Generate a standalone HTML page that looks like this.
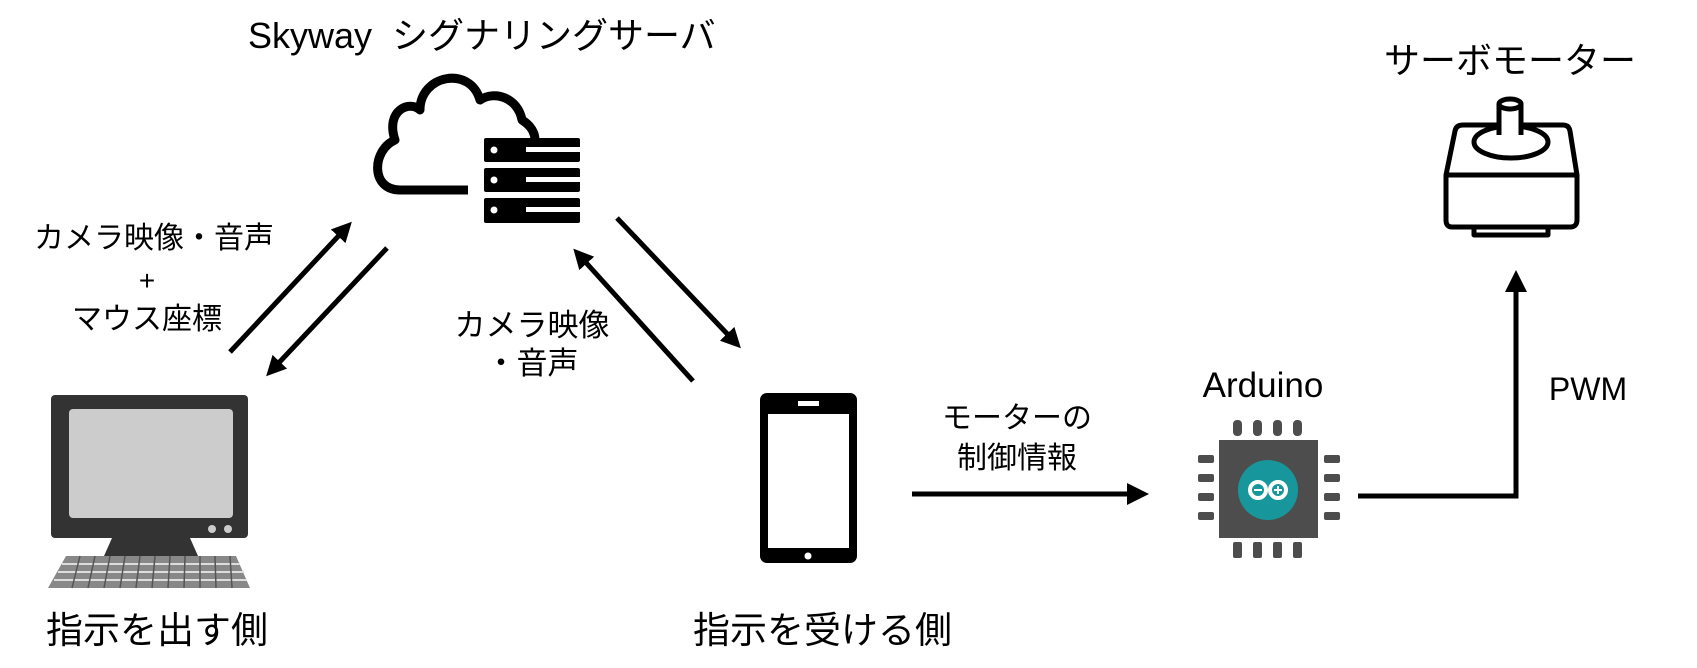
<!DOCTYPE html>
<html><head><meta charset="utf-8"><style>
html,body{margin:0;padding:0;background:#fff;}
svg{display:block;}
text{font-family:"Liberation Sans","Noto Sans CJK JP",sans-serif;fill:#000;}
</style></head><body>
<svg width="1697" height="668" viewBox="0 0 1697 668" xmlns="http://www.w3.org/2000/svg">
<defs>
<marker id="ah" markerWidth="4" markerHeight="4" refX="2" refY="2" orient="auto" markerUnits="strokeWidth">
<path d="M0,0 L4,2 L0,4 Z" fill="#000"/>
</marker>
</defs>

<!-- Title -->
<text x="248" y="48" font-size="36">Skyway&#160; シグナリングサーバ</text>

<!-- Cloud -->
<path d="M468,190 L420,190 L400,190 C370,190 372,150 395,140 C385,110 410,100 420,110 C420,75 470,65 480,100 C495,90 518,98 522,120 C530,125 535,132 535,140" fill="none" stroke="#000" stroke-width="9" stroke-linecap="butt" stroke-linejoin="round"/>
<!-- Server -->
<g fill="#000">
<rect x="484" y="138" width="96" height="24" rx="2"/>
<rect x="484" y="168" width="96" height="24" rx="2"/>
<rect x="484" y="198" width="96" height="25" rx="2"/>
</g>
<g fill="#fff">
<circle cx="494" cy="150" r="3.5"/><circle cx="494" cy="180" r="3.5"/><circle cx="494" cy="210" r="3.5"/>
<rect x="526" y="147" width="54" height="5"/><rect x="526" y="177" width="54" height="5"/><rect x="526" y="207" width="54" height="5"/>
</g>

<!-- Left labels -->
<text x="154" y="248" font-size="30" text-anchor="middle">カメラ映像・音声</text>
<text x="147" y="290" font-size="28" text-anchor="middle">+</text>
<text x="147" y="329" font-size="30" text-anchor="middle">マウス座標</text>

<!-- Left arrows -->
<line x1="230" y1="352" x2="345" y2="229" stroke="#000" stroke-width="5" marker-end="url(#ah)"/>
<line x1="387" y1="248" x2="273" y2="369" stroke="#000" stroke-width="5" marker-end="url(#ah)"/>

<!-- Middle arrows -->
<line x1="617" y1="218" x2="734" y2="341" stroke="#000" stroke-width="5" marker-end="url(#ah)"/>
<line x1="693" y1="381" x2="580" y2="256" stroke="#000" stroke-width="5" marker-end="url(#ah)"/>
<text x="532" y="336" font-size="31" text-anchor="middle">カメラ映像</text>
<text x="532" y="374" font-size="31" text-anchor="middle">・音声</text>

<!-- Monitor -->
<rect x="51" y="395" width="197" height="143" rx="4" fill="#333"/>
<rect x="69" y="409" width="164" height="109" rx="4" fill="#ccc"/>
<circle cx="212" cy="529" r="4" fill="#ccc"/><circle cx="228" cy="529" r="4" fill="#ccc"/>
<path d="M112,538 L190,538 L198,556 L104,556 Z" fill="#333"/>
<path d="M66,556 L236,556 L250,588 L48,588 Z" fill="#888"/>
<g stroke="#ddd" stroke-width="2">
<line x1="62" y1="564" x2="240" y2="564"/><line x1="58" y1="572" x2="244" y2="572"/><line x1="54" y1="580" x2="247" y2="580"/>
</g>
<g stroke="#555" stroke-width="1.5">
<path d="M80,556 L72,588 M95,556 L88,588 M110,556 L104,588 M125,556 L120,588 M140,556 L136,588 M155,556 L152,588 M170,556 L168,588 M185,556 L184,588 M200,556 L200,588 M215,556 L216,588 M230,556 L232,588"/>
</g>
<text x="46" y="643" font-size="37">指示を出す側</text>

<!-- Phone -->
<rect x="760" y="393" width="97" height="170" rx="7" fill="#000"/>
<rect x="768" y="414" width="81" height="134" fill="#fff"/>
<rect x="798" y="401" width="21" height="5" fill="#fff"/>
<circle cx="808" cy="556" r="3.5" fill="#fff"/>
<text x="693" y="643" font-size="37">指示を受ける側</text>

<!-- Motor control -->
<text x="1017" y="428" font-size="30" text-anchor="middle">モーターの</text>
<text x="1017" y="468" font-size="30" text-anchor="middle">制御情報</text>
<line x1="912" y1="494" x2="1130" y2="494" stroke="#000" stroke-width="5"/>
<path d="M1127,483 L1149,494 L1127,505 Z" fill="#000"/>

<!-- Arduino -->
<text x="1263" y="397" font-size="35" text-anchor="middle">Arduino</text>
<g fill="#4d4d4d">
<rect x="1219" y="440" width="99" height="98"/>
<rect x="1233" y="420" width="9" height="16" rx="4"/><rect x="1253" y="420" width="9" height="16" rx="4"/><rect x="1273" y="420" width="9" height="16" rx="4"/><rect x="1293" y="420" width="9" height="16" rx="4"/>
<rect x="1233" y="542" width="9" height="16" rx="2"/><rect x="1253" y="542" width="9" height="16" rx="2"/><rect x="1273" y="542" width="9" height="16" rx="2"/><rect x="1293" y="542" width="9" height="16" rx="2"/>
<rect x="1198" y="455" width="16" height="8" rx="2"/><rect x="1198" y="474" width="16" height="8" rx="2"/><rect x="1198" y="493" width="16" height="8" rx="2"/><rect x="1198" y="512" width="16" height="8" rx="2"/>
<rect x="1324" y="455" width="16" height="8" rx="2"/><rect x="1324" y="474" width="16" height="8" rx="2"/><rect x="1324" y="493" width="16" height="8" rx="2"/><rect x="1324" y="512" width="16" height="8" rx="2"/>
</g>
<circle cx="1268" cy="490" r="30" fill="#17979c"/>
<g fill="none" stroke="#fff" stroke-width="4">
<circle cx="1258" cy="490" r="8"/><circle cx="1278" cy="490" r="8"/>
</g>
<g stroke="#fff" stroke-width="2"><line x1="1254" y1="490" x2="1262" y2="490"/><line x1="1274" y1="490" x2="1282" y2="490"/><line x1="1278" y1="486" x2="1278" y2="494"/></g>

<!-- PWM line -->
<path d="M1358,496 L1516,496 L1516,290" fill="none" stroke="#000" stroke-width="5"/>
<path d="M1505,292 L1516,270 L1527,292 Z" fill="#000"/>
<text x="1588" y="400" font-size="32" text-anchor="middle">PWM</text>

<!-- Servo -->
<text x="1384" y="73" font-size="36">サーボモーター</text>
<g fill="none" stroke="#000" stroke-width="5" stroke-linejoin="round">
<path d="M1463,125 L1563,125 Q1569,125 1570,131 L1577,175 L1577,220 Q1577,227 1570,227 L1452,227 Q1446,227 1446,220 L1446,175 L1455,131 Q1456,125 1463,125 Z"/>
<line x1="1446" y1="175" x2="1577" y2="175"/>
<path d="M1474,229 L1474,235 L1548,235 L1548,229"/>
<ellipse cx="1511" cy="142" rx="37" ry="16"/>
</g>
<rect x="1500" y="110" width="19" height="30" fill="#fff"/>
<g fill="none" stroke="#000" stroke-width="5">
<path d="M1499,104 L1499,135 M1521,104 L1521,135"/>
<ellipse cx="1510" cy="104" rx="11" ry="5"/>
</g>
</svg>
</body></html>
